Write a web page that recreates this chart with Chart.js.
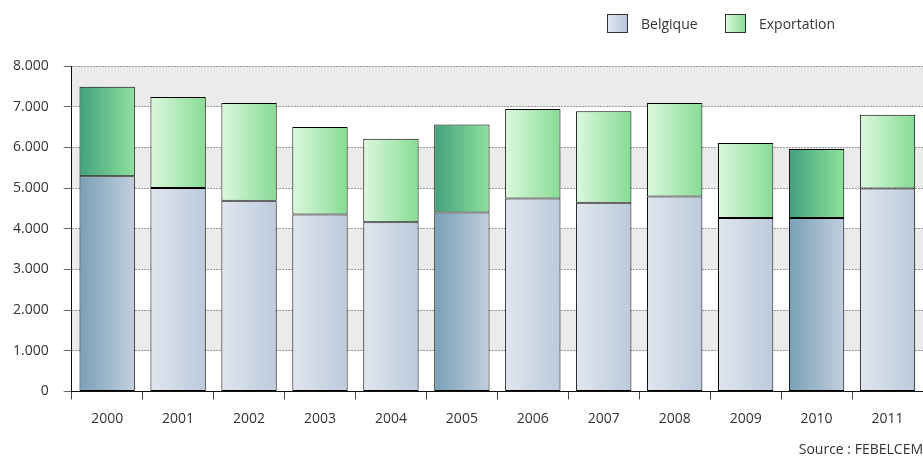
<!DOCTYPE html>
<html>
<head>
<meta charset="utf-8">
<script src="https://cdn.jsdelivr.net/npm/chart.js"></script>
<style>
  body { margin: 0; background: #fff; font-family: 'Open Sans', sans-serif; }
  #wrap { position: relative; width: 923px; height: 456px; }
  .legend { position: absolute; top: 14px; display: flex; align-items: center; font-size: 14px; color: #333; }
  .swatch { width: 19px; height: 17px; border: 1px solid #333; margin-right: 13px; }
</style>
</head>
<body>
<div id="wrap">
  <canvas id="chart"></canvas>
  <div class="legend" style="left:607px">
    <div class="swatch" style="background:linear-gradient(to right,#dfe5ee,#b9c7d9)"></div><span>Belgique</span>
  </div>
  <div class="legend" style="left:725px">
    <div class="swatch" style="background:linear-gradient(to right,#dcf8de,#88dd95)"></div><span>Exportation</span>
  </div>
</div>
<script>
const years = ['2000', '2001', '2002', '2003', '2004', '2005', '2006', '2007', '2008', '2009', '2010', '2011'];
const belgique = [5290, 5000, 4690, 4350, 4160, 4400, 4740, 4640, 4790, 4260, 4260, 4990];
const exportation = [2200, 2240, 2400, 2150, 2050, 2160, 2200, 2250, 2300, 1850, 1700, 1810];
const yTicks = [0, 1000, 2000, 3000, 4000, 5000, 6000, 7000, 8000];
const accentYears = ['2000', '2005', '2010'];

const CAT_PCT = 0.78;

const palettes = {
  belgique: { light: ['#e0e6ef', '#bccadb'], dark: ['#78a0b6', '#c2cfde'] },
  exportation: { light: ['#dcf8de', '#86dc94'], dark: ['#42a07e', '#8ee29c'] }
};

function fmt(v) {
  return String(v).replace(/\B(?=(\d{3})+(?!\d))/g, '.');
}

// horizontal gradient spanning the bar's own width
function barFill(name) {
  return function (ctx) {
    const pal = palettes[name];
    const chart = ctx.chart;
    const xs = chart.scales && chart.scales.x;
    if (ctx.dataIndex === undefined || !xs || !chart.chartArea) return pal.light[1];
    const stops = accentYears.includes(years[ctx.dataIndex]) ? pal.dark : pal.light;
    const center = xs.getPixelForValue(ctx.dataIndex);
    const half = xs.width / years.length * CAT_PCT / 2;
    const g = chart.ctx.createLinearGradient(center - half, 0, center + half, 0);
    g.addColorStop(0, stops[0]);
    g.addColorStop(1, stops[1]);
    return g;
  };
}

// alternating grey bands behind the grid
const bands = {
  id: 'bands',
  beforeDraw(chart) {
    const { ctx, chartArea, scales: { y } } = chart;
    ctx.save();
    ctx.fillStyle = '#ebebeb';
    for (let i = 1; i < yTicks.length - 1; i += 2) {
      const top = y.getPixelForValue(yTicks[i + 1]);
      const bottom = y.getPixelForValue(yTicks[i]);
      ctx.fillRect(chartArea.left, top, chartArea.right - chartArea.left, bottom - top);
    }
    ctx.restore();
  }
};

Chart.defaults.font.family = "'Open Sans', sans-serif";
Chart.defaults.font.size = 14;
Chart.defaults.color = '#333';

new Chart(document.getElementById('chart'), {
  type: 'bar',
  data: {
    labels: years,
    datasets: [
      {
        label: 'Belgique',
        data: belgique,
        backgroundColor: barFill('belgique'),
        borderColor: '#000',
        borderWidth: 1,
        borderSkipped: false
      },
      {
        label: 'Exportation',
        data: exportation,
        backgroundColor: barFill('exportation'),
        borderColor: '#000',
        borderWidth: 1,
        borderSkipped: false
      }
    ]
  },
  options: {
    responsive: true,
    maintainAspectRatio: false,
    animation: false,
    categoryPercentage: CAT_PCT,
    barPercentage: 1,
    layout: { padding: { top: 66, left: -2, right: 0, bottom: 0 } },
    plugins: {
      legend: { display: false },
      tooltip: { enabled: false },
      subtitle: {
        display: true,
        text: 'Source : FEBELCEM',
        position: 'bottom',
        align: 'end',
        color: '#333',
        font: { size: 14 },
        padding: { top: 3, bottom: -2 }
      }
    },
    scales: {
      x: {
        stacked: true,
        grid: { offset: true, drawOnChartArea: false, tickLength: 8, tickColor: '#444' },
        border: { color: '#111' },
        ticks: { padding: 11 }
      },
      y: {
        stacked: true,
        min: 0,
        max: 8000,
        afterBuildTicks(scale) { scale.ticks = yTicks.map(v => ({ value: v })); },
        grid: { color: '#9a9a9a', tickColor: '#666', tickLength: 8 },
        border: { color: '#111', dash: [2, 1] },
        ticks: { padding: 15, callback: v => fmt(v) }
      }
    }
  },
  plugins: [bands]
});
</script>
</body>
</html>
